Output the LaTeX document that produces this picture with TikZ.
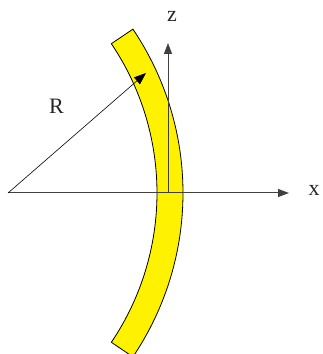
\documentclass[tikz,border=0pt]{standalone}
\usepackage{fontspec}
\setmainfont{Liberation Serif}
\usetikzlibrary{arrows.meta,calc}
\begin{document}
\begin{tikzpicture}[x=1pt,y=1pt,
  axis/.style={draw=black!75,line width=1pt,-{Triangle[length=11pt,width=8pt]}},
  rarrow/.style={draw=black,line width=0.6pt,-{Triangle[length=12pt,width=9pt]}},
  band/.style={fill=yellow,draw=black,line width=0.8pt},
  lbl/.style={font=\fontsize{22}{26}\selectfont,inner sep=0pt,text=black!85}]
\useasboundingbox (0,0) rectangle (323,354);
\begin{scope}
\clip (0,0) rectangle (323,354);
\coordinate (C) at (-110,161);
\path[band] ($(C)+(34:267)$) arc[start angle=34,end angle=-34,radius=267]
  -- ($(C)+(-34:293)$) arc[start angle=-34,end angle=34,radius=293] -- cycle;
\end{scope}
\coordinate (O) at (8,161);
\coordinate (xt) at (289,161);
\coordinate (zb) at (168,161);
\coordinate (zt) at (168,311);
\coordinate (Rt) at (146,281);
\draw[axis] (O) -- (xt);
\draw[axis] (zb) -- (zt);
\draw[rarrow] (O) -- (Rt);
\node[lbl] (xl) at (314,164) {x};
\node[lbl] (zl) at (172,338) {z};
\node[lbl] (Rl) at (56.5,247.5) {R};
\end{tikzpicture}
\end{document}
